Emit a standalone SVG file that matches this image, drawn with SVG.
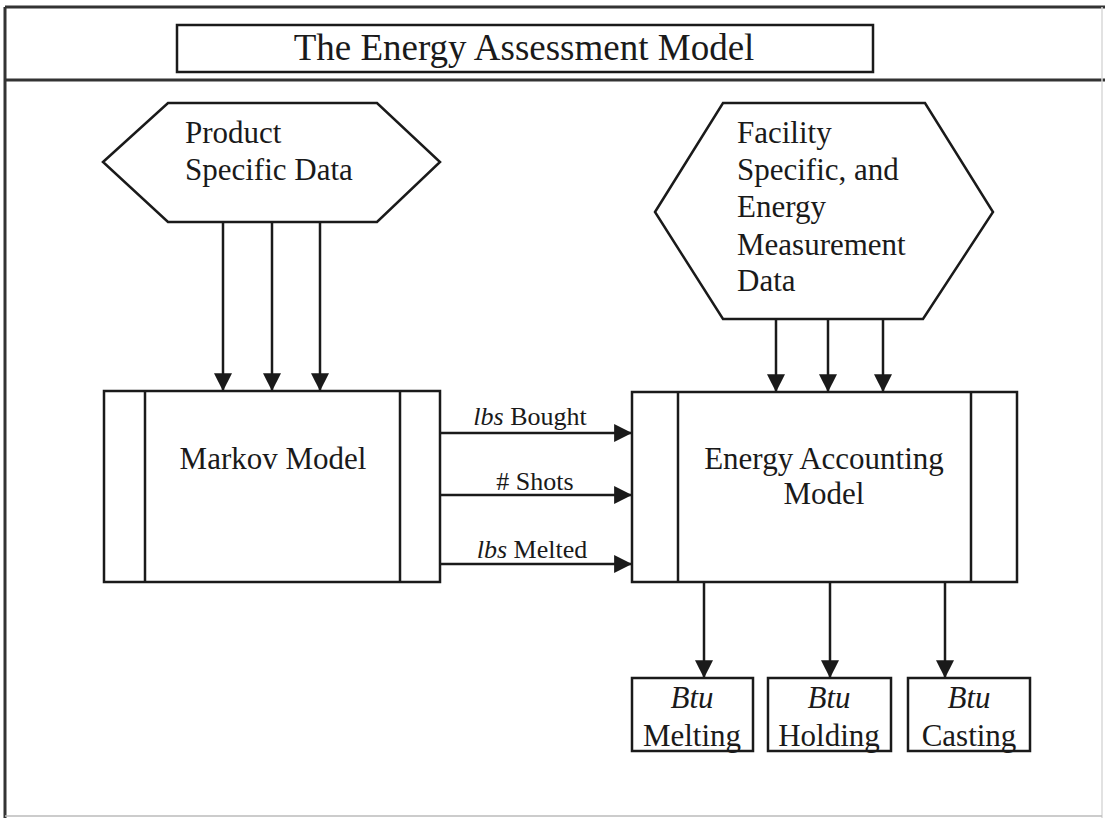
<svg xmlns="http://www.w3.org/2000/svg" width="1105" height="820" viewBox="0 0 1105 820">
  <style>
    .shape { fill: #ffffff; stroke: #1a1a1a; stroke-width: 2.5; }
    .inner { fill: none; stroke: #1a1a1a; stroke-width: 2.5; }
    .conn { fill: none; stroke: #1a1a1a; stroke-width: 2.5; }
    .txt { font-family: "Liberation Serif", "Times New Roman", serif; fill: #1a1a1a; font-size: 31px; }
    .title { font-family: "Liberation Serif", "Times New Roman", serif; fill: #1a1a1a; font-size: 37px; }
    .lbl { font-family: "Liberation Serif", "Times New Roman", serif; fill: #1a1a1a; font-size: 26px; }
    .it { font-style: italic; }
    .frame { stroke: #333333; stroke-width: 3; fill: none; }
  </style>
  <defs>
    <marker id="arr" markerUnits="userSpaceOnUse" markerWidth="18" markerHeight="18" viewBox="0 0 16 16" refX="15" refY="8" orient="auto">
      <path d="M0,0 L16,8 L0,16 Z" fill="#1a1a1a"/>
    </marker>
  </defs>
  <rect x="0" y="0" width="1105" height="820" fill="#ffffff"/>

  <g id="frame">
    <line class="frame" x1="5" y1="7" x2="1105" y2="7"/>
    <line class="frame" x1="5" y1="80" x2="1105" y2="80"/>
    <line class="frame" x1="5" y1="7" x2="5" y2="818"/>
    <line x1="1102" y1="7" x2="1102" y2="818" stroke="#d8d8d8" stroke-width="1.5"/>
    <line x1="5" y1="816" x2="1102" y2="816" stroke="#bbbbbb" stroke-width="1.5"/>
  </g>

  <g id="title">
    <rect class="shape" x="177" y="25" width="696" height="47"/>
    <text class="title" x="524" y="60" text-anchor="middle">The Energy Assessment Model</text>
  </g>

  <g id="product-data">
    <polygon class="shape" points="103,162 168,103 377,103 440,162 377,222 168,222"/>
    <text class="txt" x="185" y="143">Product</text>
    <text class="txt" x="185" y="180">Specific Data</text>
  </g>

  <g id="facility-data">
    <polygon class="shape" points="655,212 723,103 925,103 993,212 923,319 723,319"/>
    <text class="txt" x="737" y="143">Facility</text>
    <text class="txt" x="737" y="180">Specific, and</text>
    <text class="txt" x="737" y="217">Energy</text>
    <text class="txt" x="737" y="255">Measurement</text>
    <text class="txt" x="737" y="291">Data</text>
  </g>

  <g id="markov-model">
    <rect class="shape" x="104" y="391" width="336" height="191"/>
    <line class="inner" x1="145" y1="391" x2="145" y2="582"/>
    <line class="inner" x1="400" y1="391" x2="400" y2="582"/>
    <text class="txt" x="273" y="469" text-anchor="middle">Markov Model</text>
  </g>

  <g id="energy-accounting-model">
    <rect class="shape" x="632" y="392" width="385" height="190"/>
    <line class="inner" x1="678" y1="392" x2="678" y2="582"/>
    <line class="inner" x1="971" y1="392" x2="971" y2="582"/>
    <text class="txt" x="824" y="469" text-anchor="middle">Energy Accounting</text>
    <text class="txt" x="824" y="504" text-anchor="middle">Model</text>
  </g>

  <g id="btu-melting">
    <rect class="shape" x="632" y="678" width="121" height="73"/>
    <text class="txt it" x="692" y="708" text-anchor="middle">Btu</text>
    <text class="txt" x="692" y="746" text-anchor="middle">Melting</text>
  </g>
  <g id="btu-holding">
    <rect class="shape" x="768" y="678" width="123" height="73"/>
    <text class="txt it" x="829" y="708" text-anchor="middle">Btu</text>
    <text class="txt" x="829" y="746" text-anchor="middle">Holding</text>
  </g>
  <g id="btu-casting">
    <rect class="shape" x="908" y="678" width="122" height="73"/>
    <text class="txt it" x="969" y="708" text-anchor="middle">Btu</text>
    <text class="txt" x="969" y="746" text-anchor="middle">Casting</text>
  </g>

  <g id="connectors">
    <line class="conn" x1="223" y1="222" x2="223" y2="390" marker-end="url(#arr)"/>
    <line class="conn" x1="272" y1="222" x2="272" y2="390" marker-end="url(#arr)"/>
    <line class="conn" x1="320" y1="222" x2="320" y2="390" marker-end="url(#arr)"/>

    <line class="conn" x1="776" y1="319" x2="776" y2="391" marker-end="url(#arr)"/>
    <line class="conn" x1="828" y1="319" x2="828" y2="391" marker-end="url(#arr)"/>
    <line class="conn" x1="883" y1="319" x2="883" y2="391" marker-end="url(#arr)"/>

    <line class="conn" x1="440" y1="433" x2="631" y2="433" marker-end="url(#arr)"/>
    <line class="conn" x1="440" y1="495" x2="631" y2="495" marker-end="url(#arr)"/>
    <line class="conn" x1="440" y1="564" x2="631" y2="564" marker-end="url(#arr)"/>

    <line class="conn" x1="704" y1="582" x2="704" y2="677" marker-end="url(#arr)"/>
    <line class="conn" x1="830" y1="582" x2="830" y2="677" marker-end="url(#arr)"/>
    <line class="conn" x1="945" y1="582" x2="945" y2="677" marker-end="url(#arr)"/>

    <text class="lbl" x="530" y="425" text-anchor="middle"><tspan class="it">lbs</tspan> Bought</text>
    <text class="lbl" x="535" y="490" text-anchor="middle"># Shots</text>
    <text class="lbl" x="532" y="558" text-anchor="middle"><tspan class="it">lbs</tspan> Melted</text>
  </g>
</svg>
